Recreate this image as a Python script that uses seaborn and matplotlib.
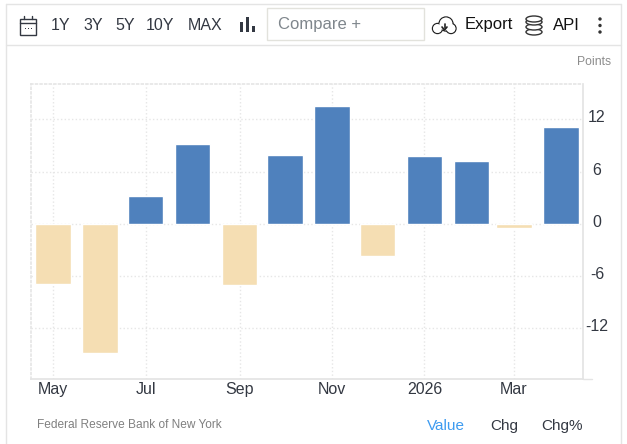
import matplotlib; matplotlib.use('Agg')
import matplotlib.pyplot as plt
from matplotlib.patches import Rectangle, Ellipse, Circle
from matplotlib.transforms import ScaledTranslation
import pandas as pd
import seaborn as sns

# days since the first bar, the reference uses a real time axis
days = [0, 31, 61, 92, 123, 153, 184, 214, 245, 276, 304, 335]
values = [-6.9, -14.8, 3.2, 9.2, -7.0, 7.9, 13.5, -3.7, 7.8, 7.2, -0.5, 11.1]
yticks = [12, 6, 0, -6, -12]
ytick_labels = ['12', '6', '0', '-6', '-12']
xtick_pos = [0, 61, 123, 184, 245, 304]
xtick_labels = ['May', 'Jul', 'Sep', 'Nov', '2026', 'Mar']
range_buttons = [('1Y', 61), ('3Y', 93), ('5Y', 125), ('10Y', 160), ('MAX', 205)]

W, H = 627, 444
BLUE, SAND = '#4f81bd', '#f5deb3'
GRID, LINE = '#e6e6e6', '#e4e4e4'
DARK = '#333842'

sns.set_theme(style='white')
plt.rcParams['font.family'] = ['Liberation Sans', 'DejaVu Sans']

df = pd.DataFrame({'day': days, 'value': values})
df['sign'] = ['pos' if v >= 0 else 'neg' for v in values]

fig = plt.figure(figsize=(W / 100, H / 100), dpi=100, facecolor='white')

# page chrome in pixel coordinates
bg = fig.add_axes([0, 0, 1, 1], zorder=0)
bg.set_xlim(0, W); bg.set_ylim(H, 0); bg.axis('off')
bg.plot([6, 6], [4, H], color=LINE, lw=1)
bg.plot([621, 621], [4, H], color=LINE, lw=1)
bg.plot([6, 621], [4, 4], color=LINE, lw=1)
bg.plot([6, 621], [45, 45], color=LINE, lw=1)
bg.add_patch(Rectangle((267, 8), 157, 32, fc='white', ec='#e2e2dc', lw=1))

# calendar icon
bg.add_patch(Rectangle((20, 19), 16, 16, fc='none', ec=DARK, lw=1))
bg.plot([20, 36], [23, 23], color=DARK, lw=1)
bg.plot([24, 24], [16, 19], color=DARK, lw=1)
bg.plot([32, 32], [16, 19], color=DARK, lw=1)
for px in (25, 28, 31):
    bg.add_patch(Rectangle((px - 0.5, 28), 1.4, 1.4, fc=DARK, ec='none'))

for label, cx in range_buttons:
    bg.text(cx, 26, label, ha='center', va='center', fontsize=11.5, color=DARK)

# bar chart icon
for px, top in ((240, 22), (246, 17), (252, 26)):
    bg.add_patch(Rectangle((px, top), 2.6, 32 - top, fc=DARK, ec='none'))

bg.text(278, 25, 'Compare +', ha='left', va='center', fontsize=12, color='#7f868c')

# cloud icon
lobes = ((437.5, 28.5, 5), (446, 24, 7), (451, 28.5, 5))
for cx, cy, r in lobes:
    bg.add_patch(Circle((cx, cy), r, fc='white', ec='#222222', lw=1))
for cx, cy, r in lobes:
    bg.add_patch(Circle((cx, cy), r - 0.6, fc='white', ec='none'))
bg.plot([444.5, 444.5], [24, 28], color='#222222', lw=1.2, zorder=4)
bg.plot([442, 444.5, 447], [27, 30, 27], color='#222222', lw=1.2, zorder=4)
bg.text(465, 25, 'Export', ha='left', va='center', fontsize=12, color='#111111')

# database icon
for cy in (32, 27, 22, 19):
    bg.add_patch(Ellipse((534, cy), 16, 6, fc='white', ec='#333333', lw=1))
bg.text(553, 25, 'API', ha='left', va='center', fontsize=12, color='#111111')

for cy in (19, 25.5, 32):
    bg.add_patch(Circle((600, cy), 1.7, fc='#333333', ec='none'))

bg.text(611, 62, 'Points', ha='right', va='center', fontsize=8.8, color='#8c8c8c')
bg.text(37, 425, 'Federal Reserve Bank of New York', ha='left', va='center', fontsize=8.6, color='#808080')
bg.text(427, 426, 'Value', ha='left', va='center', fontsize=11, color='#3d9bf0')
bg.text(490, 426, 'Chg', ha='left', va='center', fontsize=11, color=DARK)
bg.text(541, 426, 'Chg%', ha='left', va='center', fontsize=11, color=DARK)

# plot area
ax = fig.add_axes([31 / W, 1 - 379 / H, (583 - 31) / W, (379 - 84) / H], zorder=1)
ax.patch.set_alpha(0)
sns.barplot(data=df, x='day', y='value', hue='sign', dodge=False, native_scale=True,
            palette={'pos': BLUE, 'neg': SAND}, width=0.84, legend=False, saturation=1, ax=ax, zorder=3)
ax.set_xlim(-14.6, 349.6)
ax.set_ylim(-17.82, 16.05)
ax.set_xlabel(''); ax.set_ylabel('')

ax.set_yticks(yticks)
ax.set_yticklabels(ytick_labels)
ax.yaxis.tick_right()
ax.set_xticks(xtick_pos)
ax.set_xticklabels(xtick_labels)
ax.tick_params(axis='x', length=0, pad=2, labelsize=11.5, labelcolor=DARK)
ax.tick_params(axis='y', length=0, pad=10, labelsize=11.5, labelcolor=DARK)
shift = ScaledTranslation(0, 3 / 100, fig.dpi_scale_trans)
for lab in ax.get_yticklabels():
    lab.set_ha('center')
    lab.set_transform(lab.get_transform() + shift)

ax.grid(True, color=GRID, ls=':', lw=1)
ax.set_axisbelow(True)
for side in ('top', 'left'):
    ax.spines[side].set_color(GRID)
    ax.spines[side].set_linestyle(':')
ax.spines['right'].set_color(LINE)
ax.spines['bottom'].set_color(LINE)

# axis line runs a bit past the plot on the right
bg.plot([583, 592], [379, 379], color=LINE, lw=1)

fig.savefig('out.png', dpi=100, facecolor='white')
